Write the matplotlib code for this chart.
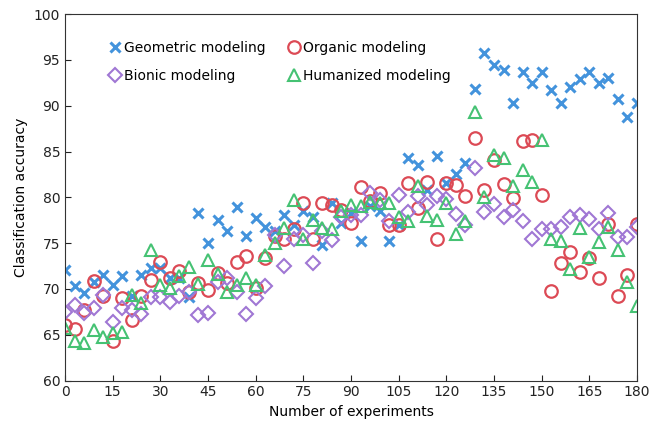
import numpy as np
import matplotlib
matplotlib.use("Agg")
import matplotlib.pyplot as plt

plt.rcParams['font.family'] = ['DejaVu Sans']

# experiment number (every 3rd experiment)
x = np.arange(0, 181, 3)

geometric = [72.1, 70.3, 69.6, 70.8, 71.5, 70.4, 71.4, 69.2, 71.5, 72.3,
             72.3, 71.2, 71.2, 69.1, 78.3, 75.0, 77.5, 76.3, 78.9, 75.8,
             77.7, 76.8, 76.3, 78.1, 77.0, 78.5, 77.9, 74.8, 79.4, 77.2,
             78.3, 75.2, 79.0, 78.5, 75.2, 77.0, 84.3, 83.5, 80.8, 84.5,
             81.6, 82.6, 83.7, 91.8, 95.8, 94.4, 93.9, 90.3, 93.7, 92.5,
             93.7, 91.7, 90.3, 92.1, 92.9, 93.7, 92.5, 93.0, 90.7, 88.8,
             90.3]
organic = [66.1, 65.6, 67.7, 70.9, 69.2, 64.3, 69.0, 66.6, 69.2, 71.0,
           72.9, 71.2, 72.0, 69.7, 70.7, 69.9, 71.7, 70.6, 72.9, 73.6,
           70.1, 73.4, 75.8, 75.5, 76.5, 79.4, 75.5, 79.4, 79.2, 78.6,
           77.2, 81.1, 79.6, 80.5, 77.0, 77.0, 81.6, 78.8, 81.7, 75.4,
           81.6, 81.4, 80.2, 86.5, 80.8, 84.1, 81.5, 79.9, 86.1, 86.3,
           80.3, 69.8, 72.8, 74.0, 71.9, 73.4, 71.2, 77.1, 69.2, 71.5,
           77.1]
bionic = [67.5, 68.3, 67.4, 67.9, 69.3, 66.4, 67.9, 67.7, 67.3, 69.1,
          69.1, 68.6, 69.2, 69.7, 67.2, 67.4, 70.8, 71.2, 69.7, 67.3,
          69.0, 70.3, 75.9, 72.5, 75.4, 75.9, 72.8, 76.3, 75.3, 77.8,
          78.1, 78.1, 80.5, 79.7, 77.4, 80.3, 78.4, 80.1, 79.2, 80.1,
          79.8, 78.2, 77.0, 83.2, 78.4, 79.3, 77.9, 78.6, 77.4, 75.5,
          76.5, 76.5, 76.8, 77.9, 78.1, 77.6, 76.5, 78.3, 75.7, 75.7,
          76.8]
humanized = [65.7, 64.3, 64.1, 65.5, 64.7, 65.2, 65.3, 69.3, 68.5, 74.2,
             70.4, 70.1, 71.4, 72.4, 70.5, 73.2, 71.6, 69.7, 70.4, 71.2,
             70.4, 73.7, 75.0, 76.6, 79.7, 75.4, 77.5, 76.6, 76.5, 78.5,
             79.2, 79.0, 79.5, 79.4, 79.4, 77.9, 77.4, 81.2, 78.0, 77.5,
             79.4, 76.0, 77.4, 89.3, 80.0, 84.6, 84.3, 81.2, 83.0, 81.7,
             86.3, 75.4, 75.2, 72.2, 76.7, 73.5, 75.1, 76.8, 74.3, 70.8,
             68.1]

fig = plt.figure(figsize=(6.5, 4.29), dpi=100)
ax = fig.add_axes([0.1, 0.113, 0.88, 0.854])

h_geo, = ax.plot(x, geometric, ls='none', marker='x', ms=7, mew=2.2,
                 color='#4393dc', label='Geometric modeling')
h_org, = ax.plot(x, organic, ls='none', marker='o', ms=9, mew=1.6,
                 mfc='none', mec='#dc4a55', label='Organic modeling')
h_bio, = ax.plot(x, bionic, ls='none', marker='D', ms=7, mew=1.5,
                 mfc='none', mec='#a077d4', label='Bionic modeling')
h_hum, = ax.plot(x, humanized, ls='none', marker='^', ms=9, mew=1.5,
                 mfc='none', mec='#45c273', label='Humanized modeling')

ax.set_xlim(0, 180)
ax.set_ylim(60, 100)
ax.set_xticks(np.arange(0, 181, 15))
ax.set_yticks(np.arange(60, 101, 5))
ax.tick_params(direction='in', length=4, labelsize=10, colors='#222222')
ax.set_xlabel('Number of experiments', fontsize=10)
ax.set_ylabel('Classification accuracy', fontsize=10)
for s in ax.spines.values():
    s.set_color('#333333')

ax.legend(handles=[h_geo, h_bio, h_org, h_hum], ncol=2, frameon=False,
          loc='upper left', bbox_to_anchor=(0.055, 0.96), fontsize=10,
          handlelength=0.8, handletextpad=0.3, columnspacing=1.6,
          labelspacing=1.0)

fig.savefig('out.png', dpi=100)
